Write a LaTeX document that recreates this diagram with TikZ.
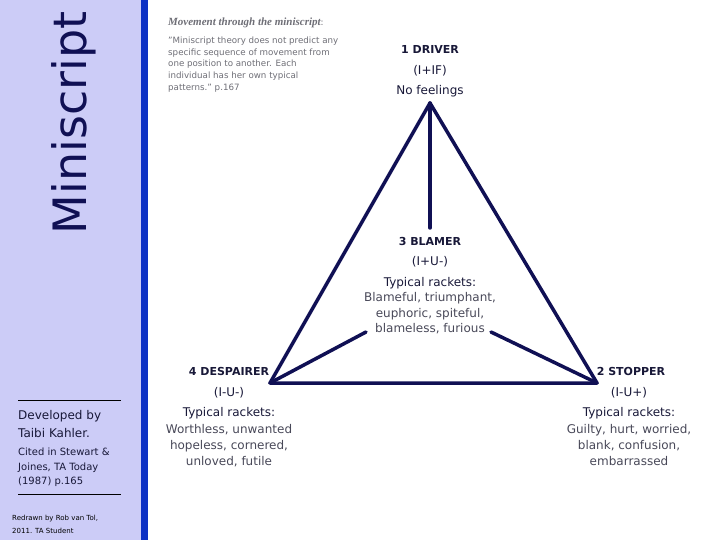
\documentclass[tikz,border=0pt]{standalone}
\usepackage{fontspec}
\setmainfont{DejaVu Sans}
\newfontfamily\quotefont{Liberation Serif}
\usepackage{xcolor}
\usetikzlibrary{positioning}
\definecolor{lavender}{RGB}{204,204,247}
\definecolor{barblue}{RGB}{14,50,196}
\definecolor{navy}{RGB}{16,16,84}
\definecolor{ink}{RGB}{24,24,56}
\definecolor{racket}{RGB}{72,72,88}
\definecolor{note}{RGB}{110,110,118}
\newcommand{\corner}[1]{{\fontsize{11}{20.5}\selectfont\bfseries #1}}

\begin{document}
\begin{tikzpicture}[x=1pt,y=-1pt,
  tri/.style={draw=navy,line width=3.5pt,line join=round,line cap=round},
  corner/.style={align=center,inner sep=0pt,anchor=north,text=ink,font=\fontsize{12}{20.5}\selectfont},
  side/.style={align=left,inner sep=0pt,anchor=north west,text=ink}]
\useasboundingbox (0,0) rectangle (720,540);
\fill[lavender](0,0)rectangle(141,540);
\fill[barblue](141,0)rectangle(148,540);
\node[rotate=90,text=navy,font=\fontsize{46}{46}\selectfont,inner sep=0pt] (title) at (74,123) {Miniscript};
\draw[black,line width=0.8pt](18,400)--(121,400);
\node[side,font=\fontsize{12}{18}\selectfont] (kahler) at (18,410) {Developed by\\Taibi Kahler.};
\node[side,font=\fontsize{10}{14.5}\selectfont] (cited) at (18,448) {Cited in Stewart \&\\Joines, TA Today\\(1987) p.165};
\draw[black,line width=0.8pt](18,494)--(121,494);
\node[side,text=black,font=\fontsize{7}{13}\selectfont] (redrawn) at (12,515) {Redrawn by Rob van Tol,\\2011. TA Student};
%quote
\node[side,text=note,font=\fontsize{8.7}{11.7}\selectfont] (quote) at (168,18) {{\quotefont\fontsize{11}{11.7}\selectfont\bfseries\itshape Movement through the miniscript}:\\[6pt]
"Miniscript theory does not predict any\\specific sequence of movement from\\one position to another. Each\\individual has her own typical\\patterns." p.167};
%corners
\node[corner] (driver) at (430,45.5) {\corner{1 DRIVER}\\(I+IF)\\No feelings};
\node[corner] (blamer) at (430,237) {\corner{3 BLAMER}\\(I+U-)\\Typical rackets:\\[-5pt]
\textcolor{racket}{Blameful, triumphant,}\\[-5pt]\textcolor{racket}{euphoric, spiteful,}\\[-5pt]\textcolor{racket}{blameless, furious}};
\node[corner] (despairer) at (229,367.5) {\corner{4 DESPAIRER}\\(I-U-)\\Typical rackets:\\[-4pt]
\textcolor{racket}{Worthless, unwanted}\\[-4.5pt]\textcolor{racket}{hopeless, cornered,}\\[-4.5pt]\textcolor{racket}{unloved, futile}};
\node[corner] (stopper) at (629,367.5) {\corner{\hspace*{4pt}2 STOPPER}\\(I-U+)\\Typical rackets:\\[-4pt]
\textcolor{racket}{Guilty, hurt, worried,}\\[-4.5pt]\textcolor{racket}{blank, confusion,}\\[-4.5pt]\textcolor{racket}{embarrassed}};
\coordinate (top) at (430,103);
\coordinate (left) at (270,383);
\coordinate (right) at (597,383);
\coordinate (stem) at (430,228);
\coordinate (bl) at (366,332);
\coordinate (br) at (491,332);
\draw[tri](left)--(top)--(right)--cycle;
\draw[tri](top)--(stem);
\draw[tri](bl)--(left);
\draw[tri](br)--(right);
\end{tikzpicture}
\end{document}
